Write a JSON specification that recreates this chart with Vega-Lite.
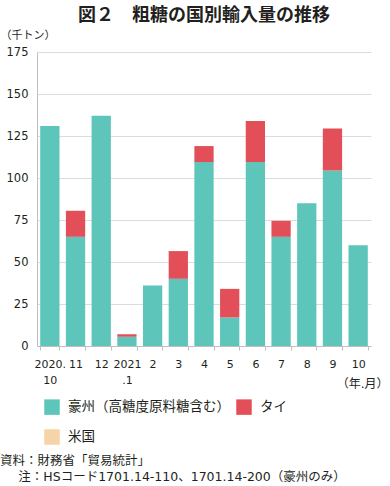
{
  "$schema": "https://vega.github.io/schema/vega-lite/v6.json",
  "padding": {"left": 0, "top": 7, "right": 0, "bottom": 0},
  "background": "white",
  "title": {
    "text": ["資料：財務省「貿易統計」", "\u2800\u2800注：HSコード1701.14-110、1701.14-200（豪州のみ）"],
    "orient": "bottom",
    "anchor": "start",
    "font": "DejaVu Sans, Noto Sans CJK JP",
    "fontSize": 12.5,
    "fontWeight": "normal",
    "lineHeight": 16,
    "color": "#231f20",
    "offset": 10
  },
  "vconcat": [
    {
      "width": 334,
      "height": 294,
      "title": {
        "text": "図２　粗糖の国別輸入量の推移",
        "fontSize": 18,
        "fontWeight": "bold",
        "anchor": "middle",
        "color": "#231f20",
        "offset": 4
      },
      "data": {
        "values": [
          {"month": "2020.10", "country": "豪州（高糖度原料糖含む）", "rank": 1, "value": 131},
          {"month": "11", "country": "豪州（高糖度原料糖含む）", "rank": 1, "value": 65},
          {"month": "11", "country": "タイ", "rank": 2, "value": 15.5},
          {"month": "12", "country": "豪州（高糖度原料糖含む）", "rank": 1, "value": 137},
          {"month": "2021.1", "country": "豪州（高糖度原料糖含む）", "rank": 1, "value": 5.5},
          {"month": "2021.1", "country": "タイ", "rank": 2, "value": 1.5},
          {"month": "2", "country": "豪州（高糖度原料糖含む）", "rank": 1, "value": 36},
          {"month": "3", "country": "豪州（高糖度原料糖含む）", "rank": 1, "value": 40},
          {"month": "3", "country": "タイ", "rank": 2, "value": 16.5},
          {"month": "4", "country": "豪州（高糖度原料糖含む）", "rank": 1, "value": 109.5},
          {"month": "4", "country": "タイ", "rank": 2, "value": 9.5},
          {"month": "5", "country": "豪州（高糖度原料糖含む）", "rank": 1, "value": 17},
          {"month": "5", "country": "タイ", "rank": 2, "value": 17},
          {"month": "6", "country": "豪州（高糖度原料糖含む）", "rank": 1, "value": 109.5},
          {"month": "6", "country": "タイ", "rank": 2, "value": 24.5},
          {"month": "7", "country": "豪州（高糖度原料糖含む）", "rank": 1, "value": 65},
          {"month": "7", "country": "タイ", "rank": 2, "value": 9.5},
          {"month": "8", "country": "豪州（高糖度原料糖含む）", "rank": 1, "value": 85},
          {"month": "9", "country": "豪州（高糖度原料糖含む）", "rank": 1, "value": 104.5},
          {"month": "9", "country": "タイ", "rank": 2, "value": 25},
          {"month": "10", "country": "豪州（高糖度原料糖含む）", "rank": 1, "value": 60}
        ]
      },
      "mark": {"type": "bar"},
      "encoding": {
        "x": {
          "field": "month",
          "type": "ordinal",
          "sort": null,
          "scale": {"paddingInner": 0.25, "paddingOuter": 0.125},
          "axis": {
            "title": "（年.月）",
            "titleFont": "DejaVu Sans, Noto Sans CJK JP",
            "titleFontSize": 12,
            "titleFontWeight": "normal",
            "titleColor": "#231f20",
            "titleAnchor": null,
            "titleX": 351,
            "titleY": 37,
            "titleAlign": "right",
            "titleBaseline": "middle",
            "labelAngle": 0,
            "labelFont": "DejaVu Sans",
            "labelFontSize": 11,
            "labelColor": "#231f20",
            "labelPadding": 8,
            "labelLineHeight": 16.5,
            "labelExpr": "datum.value == '2020.10' ? ['2020.', '10'] : datum.value == '2021.1' ? ['2021', '.1'] : datum.value",
            "tickBand": "extent",
            "tickSize": 4,
            "tickColor": "#bfbfbf",
            "domainColor": "#bfbfbf",
            "grid": false
          }
        },
        "y": {
          "field": "value",
          "type": "quantitative",
          "stack": "zero",
          "scale": {"domain": [0, 175], "nice": false},
          "axis": {
            "values": [0, 25, 50, 75, 100, 125, 150, 175],
            "title": "（千トン）",
            "titleAngle": 0,
            "titleFontSize": 11,
            "titleFontWeight": "normal",
            "titleColor": "#231f20",
            "titleAnchor": null,
            "titleX": -37,
            "titleY": -17,
            "titleAlign": "left",
            "titleBaseline": "middle",
            "labelFont": "DejaVu Sans",
            "labelFontSize": 11.5,
            "labelColor": "#231f20",
            "labelPadding": 9,
            "ticks": false,
            "domainColor": "#bfbfbf",
            "gridColor": "#dcdcdc"
          }
        },
        "color": {
          "field": "country",
          "type": "nominal",
          "scale": {
            "domain": ["豪州（高糖度原料糖含む）", "タイ", "米国"],
            "range": ["#5ec5bb", "#e34f59", "#f5d5a8"]
          },
          "legend": {
            "title": null,
            "orient": "none",
            "legendX": 7,
            "legendY": 347,
            "direction": "horizontal",
            "columns": 2,
            "symbolType": "square",
            "symbolSize": 240,
            "symbolStrokeWidth": 0,
            "labelFontSize": 13.5,
            "labelLimit": 0,
            "labelColor": "#231f20",
            "labelOffset": 8,
            "columnPadding": 6,
            "rowPadding": 14
          }
        },
        "order": {"field": "rank", "type": "quantitative"}
      }
    }
  ],
  "config": {
    "font": "Noto Sans CJK JP",
    "view": {"stroke": null}
  }
}
